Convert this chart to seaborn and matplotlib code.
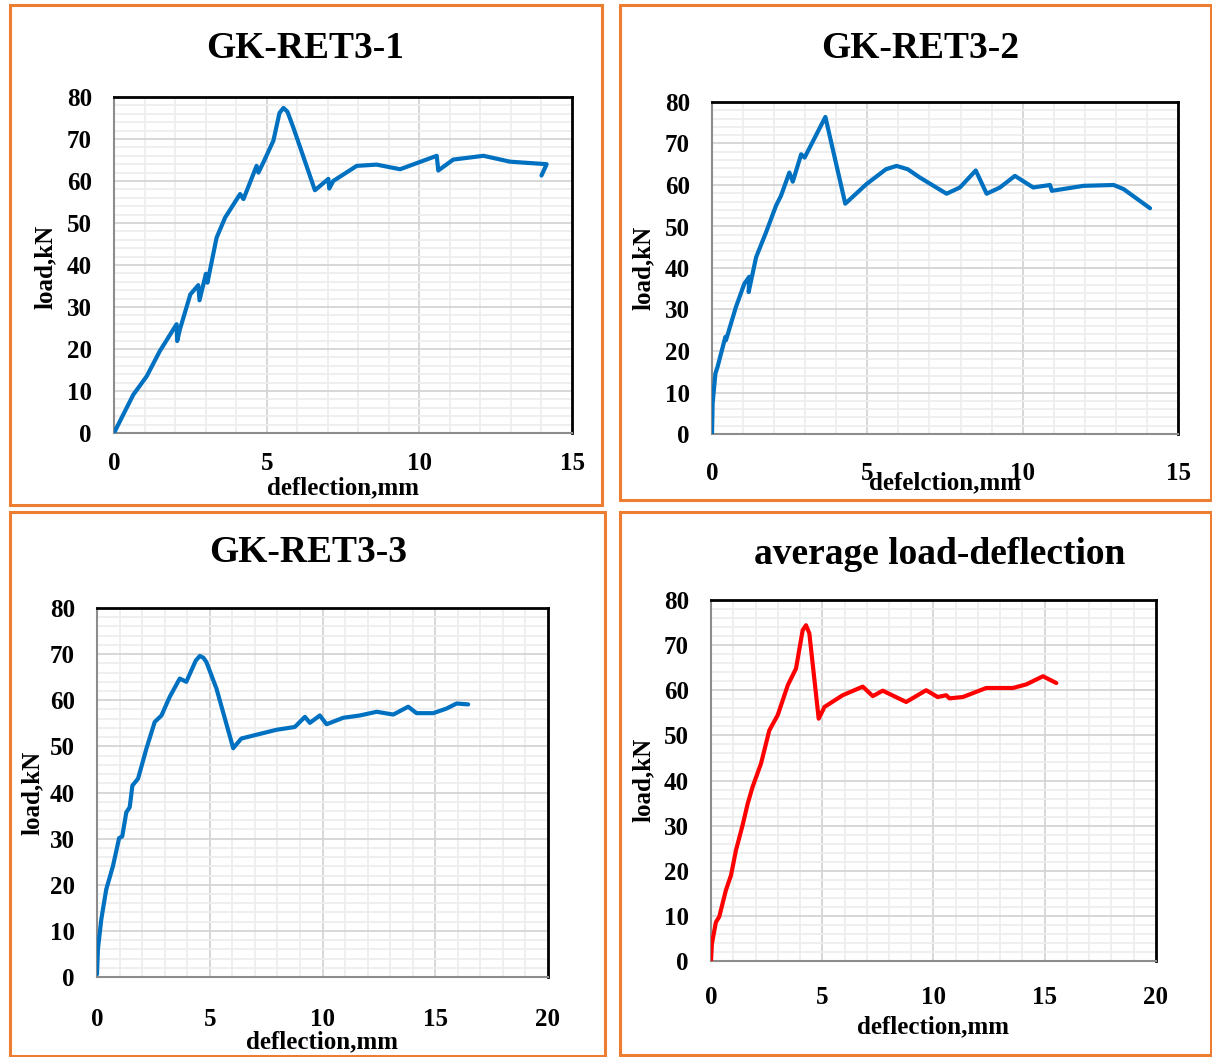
import matplotlib
matplotlib.use("Agg")
import matplotlib.pyplot as plt
from matplotlib.patches import Rectangle
from matplotlib.ticker import MultipleLocator
import seaborn as sns
import pandas as pd

# ---------------- data ----------------
titles = ["GK-RET3-1", "GK-RET3-2", "GK-RET3-3", "average load-deflection"]
xlabels = ["deflection,mm", "defelction,mm", "deflection,mm", "deflection,mm"]
ylabel = "load,kN"

s1_x = [0, 0.63, 1.07, 1.5, 2.05, 2.07, 2.16, 2.5, 2.76, 2.8, 3.01, 3.06, 3.36, 3.64, 4.13, 4.24,
        4.67, 4.73, 4.89, 5.22, 5.42, 5.55, 5.68, 5.87, 6.58, 7.02, 7.05, 7.18, 7.95, 8.6, 9.37, 10.57, 10.62,
        11.11, 12.1, 12.97, 14.17, 14.0]
s1_y = [0, 9.1, 13.5, 19.5, 25.9, 21.9, 24.7, 33, 35.2, 31.6, 37.9, 35.8, 46.5, 51.3, 56.9, 55.7,
        63.6, 62, 64.4, 69.6, 76.2, 77.4, 76.5, 72.8, 57.8, 60.5, 58.2, 60, 63.6, 63.9, 62.8, 66, 62.5,
        65.1, 66, 64.6, 64, 61.3]

s2_x = [0, 0.02, 0.11, 0.18, 0.43, 0.45, 0.77, 1.04, 1.2, 1.18, 1.42, 1.74, 2.06, 2.22, 2.49, 2.6,
        2.87, 2.98, 3.65, 4.29, 4.97, 5.6, 5.94, 6.3, 6.69, 7.55, 7.98, 8.49, 8.84, 9.27, 9.75, 10.34, 10.88,
        10.94, 11.96, 12.93, 13.25, 14.1]
s2_y = [0, 7.4, 14.6, 16.2, 23.4, 22.6, 30.6, 36.2, 37.9, 34.2, 42.6, 48.6, 55, 57.4, 63, 60.8,
        67.4, 66.6, 76.4, 55.5, 60.2, 63.8, 64.6, 63.8, 61.8, 57.9, 59.4, 63.5, 57.9, 59.4, 62.2, 59.4, 60,
        58.6, 59.8, 60, 59, 54.4]

s3_x = [0, 0.04, 0.19, 0.41, 0.71, 0.98, 1.12, 1.3, 1.45, 1.57, 1.82, 2.19, 2.56, 2.86, 3.22, 3.67,
        3.96, 4.38, 4.56, 4.72, 4.85, 5.3, 6.04, 6.4, 7.96, 8.77, 9.22, 9.44, 9.88, 10.18, 10.92, 11.66, 12.4,
        13.14, 13.8, 14.17, 14.91, 15.5, 15.95, 16.46]
s3_y = [0.6, 6, 12.5, 19, 24.1, 30.1, 30.5, 35.7, 36.8, 41.5, 43, 49.5, 55.3, 56.7, 60.7, 64.7,
        64, 68.6, 69.6, 69.2, 68.3, 62.5, 49.6, 51.7, 53.6, 54.2, 56.4, 55.1, 56.7, 54.8, 56.2, 56.7, 57.5,
        56.9, 58.6, 57.2, 57.2, 58.2, 59.3, 59.1]

s4_x = [0, 0.04, 0.22, 0.37, 0.67, 0.9, 1.12, 1.42, 1.65, 1.87, 2.25, 2.62, 3.0, 3.45, 3.82, 4.12,
        4.27, 4.42, 4.84, 5.1, 5.92, 6.82, 7.27, 7.72, 8.77, 9.67, 10.19, 10.57, 10.72, 11.32, 12.37,
        13.57, 14.17, 14.92, 15.52]
s4_y = [0.1, 3.8, 8.6, 9.8, 15.7, 19, 24.5, 30.1, 34.9, 38.6, 43.8, 51.1, 54.5, 61.1, 64.8, 73.3,
        74.4, 72.6, 53.7, 56.3, 58.9, 60.8, 58.7, 59.9, 57.4, 60, 58.5, 58.9, 58.2, 58.5, 60.5,
        60.5, 61.3, 63.1, 61.6]

series_x = [s1_x, s2_x, s3_x, s4_x]
series_y = [s1_y, s2_y, s3_y, s4_y]
colors = ["#0070C0", "#0070C0", "#0070C0", "#FF0000"]
xmax = [15, 15, 20, 20]
ymax = 80

# ---------------- layout ----------------
W, H = 1212, 1057
sns.set_theme(style="white")
plt.rcParams["font.family"] = ["Liberation Serif", "DejaVu Serif"]
plt.rcParams["font.weight"] = "bold"
plt.rcParams["text.color"] = "black"
plt.rcParams["xtick.color"] = "black"
plt.rcParams["ytick.color"] = "black"
plt.rcParams["axes.labelcolor"] = "black"

fig = plt.figure(figsize=(W / 100, H / 100), dpi=100)
fig.patch.set_facecolor("white")

def fx(px):
    return px / W

def fy(py):
    return 1 - py / H

# axes boxes in pixels: left, top, right, bottom
axes_px = [(114, 97, 572, 433), (712, 102, 1178, 434), (97, 608, 548, 977), (711, 600, 1156, 961)]
borders_px = [(10, 5, 602, 505), (620, 5, 1211, 500), (10, 512, 605, 1056), (620, 512, 1211, 1055)]
title_px = [(305, 48), (920, 48), (308, 553), (940, 555)]
ylab_px = [(45, 267), (643, 268), (32, 793), (643, 780)]
xlab_px = [(343, 488), (945, 483), (322, 1042), (933, 1027)]
xpad = [14, 20, 22, 18]

orange = "#ED7D31"
for (l, t, r, b) in borders_px:
    fig.patches.append(Rectangle((fx(l), fy(b)), fx(r - l), (b - t) / H, transform=fig.transFigure,
                                 fill=False, edgecolor=orange, linewidth=2.2, zorder=0))

for i in range(4):
    l, t, r, b = axes_px[i]
    ax = fig.add_axes([fx(l), fy(b), fx(r - l), (b - t) / H])
    df = pd.DataFrame({"x": series_x[i], "y": series_y[i]})
    sns.lineplot(data=df, x="x", y="y", sort=False, estimator=None, ax=ax,
                 color=colors[i], linewidth=3.0, zorder=5)
    ax.set_xlim(0, xmax[i])
    ax.set_ylim(0, ymax)
    ax.xaxis.set_major_locator(MultipleLocator(5))
    ax.xaxis.set_minor_locator(MultipleLocator(1))
    ax.yaxis.set_major_locator(MultipleLocator(10))
    ax.yaxis.set_minor_locator(MultipleLocator(2))
    ax.grid(which="major", color="#d4d4d4", linewidth=1.3, zorder=1)
    ax.grid(which="minor", color="#eeeeee", linewidth=1.3, zorder=0)
    ax.set_axisbelow(True)
    ax.tick_params(which="both", length=0)
    ax.tick_params(axis="y", pad=16, labelsize=18, labelcolor="black")
    ax.tick_params(axis="x", pad=xpad[i], labelsize=18, labelcolor="black")
    for lab in ax.get_xticklabels() + ax.get_yticklabels():
        lab.set_fontweight("bold")
    ax.set_xlabel("")
    ax.set_ylabel("")
    for side in ["top", "right"]:
        ax.spines[side].set_color("black")
        ax.spines[side].set_linewidth(2)
    for side in ["left", "bottom"]:
        ax.spines[side].set_color("#8c8c8c")
        ax.spines[side].set_linewidth(1.5)
    ax.set_facecolor("white")

    tx, ty = title_px[i]
    fig.text(fx(tx), fy(ty), titles[i], ha="center", va="center", fontsize=27, fontweight="bold", color="black")
    yx, yy = ylab_px[i]
    fig.text(fx(yx), fy(yy), ylabel, ha="center", va="center", rotation=90, fontsize=18, fontweight="bold", color="black")
    lx, ly = xlab_px[i]
    fig.text(fx(lx), fy(ly), xlabels[i], ha="center", va="center", fontsize=18, fontweight="bold", color="black")

fig.savefig("out.png", dpi=100, facecolor="white")
